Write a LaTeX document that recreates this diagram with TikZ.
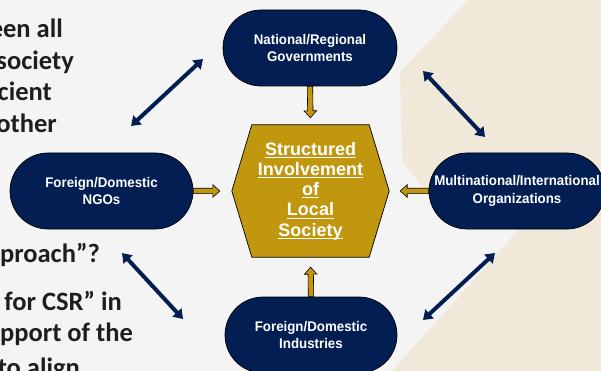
\documentclass[tikz,border=0pt]{standalone}
\usepackage{fontspec}
\usetikzlibrary{shapes.misc,calc,arrows.meta}
\newfontfamily\sidefont{Carlito}
\newfontfamily\boxfont[FakeStretch=0.95]{Liberation Sans}
\newfontfamily\hexfont{Liberation Sans}
\definecolor{navy}{RGB}{2,30,82}
\definecolor{gold}{RGB}{192,151,14}
\definecolor{bggray}{RGB}{244,244,244}
\definecolor{bgbeige}{RGB}{240,233,218}
\definecolor{sidetext}{RGB}{30,30,30}
\newcommand\hul[1]{\setbox0\hbox{#1}\rlap{\rule[-2.8pt]{\wd0}{1pt}}\box0}
\tikzset{
  tipgap/.store in=\tipgap, tipgap=7pt,
  stadium/.style={rounded rectangle, fill=navy, draw=black, line width=0.7pt,
    minimum height=76pt, inner sep=0pt, text=white, align=center,
    font=\boxfont\bfseries\fontsize{14}{17.5}\selectfont},
  hexbox/.style={minimum width=157pt, minimum height=132pt, inner sep=0pt},
  hextext/.style={text=white, align=center, inner sep=0pt,
    font=\hexfont\bfseries\fontsize{18}{20.3}\selectfont},
  sidetxt/.style={anchor=base east, inner sep=0pt, text=sidetext,
    font=\sidefont\bfseries\fontsize{26.5}{31}\selectfont},
  goldarrow/.style={fill=gold, draw=black, line width=0.6pt,
    to path={let \p1=(\tikztostart), \p2=($(\tikztotarget)!\tipgap!(\tikztostart)$),
      \n1={atan2(\y2-\y1,\x2-\x1)} in
      ($(\p1)+(\n1+90:2.7pt)$) -- ($(\p2)+(\n1:-7pt)+(\n1+90:2.7pt)$)
      -- ($(\p2)+(\n1:-7pt)+(\n1+90:6.3pt)$) -- (\p2)
      -- ($(\p2)+(\n1:-7pt)+(\n1-90:6.3pt)$) -- ($(\p2)+(\n1:-7pt)+(\n1-90:2.7pt)$)
      -- ($(\p1)+(\n1-90:2.7pt)$) -- cycle}},
  biarrow/.style={draw=navy, line width=4pt,
    {Triangle[width=12pt,length=9pt]}-{Triangle[width=12pt,length=9pt]}}
}
\begin{document}
\begin{tikzpicture}[x=1pt,y=-1pt]
\useasboundingbox (0,0) rectangle (601,371);
\clip (0,0) rectangle (601,371);
% background
\fill[bggray] (0,0) rectangle (601,371);
\fill[bgbeige] (468,0) -- (601,0) -- (601,371) -- (392,371) -- (520,228)
  -- (442,214) -- (402,160) -- (400,72) -- cycle;
% side text
\node[sidetxt] (s1) at (63,38) {een all};
\node[sidetxt] (s2) at (74,70) {society};
\node[sidetxt] (s3) at (52,101) {cient};
\node[sidetxt] (s4) at (57,133) {other};
\node[sidetxt] (s5) at (100,262) {pproach”?};
\node[sidetxt] (s6) at (122,310) {for CSR” in};
\node[sidetxt] (s7) at (133,341) {pport of the};
\node[sidetxt] (s8) at (80,376) {to align};
% nodes
\node[stadium, minimum width=174pt] (gov) at (310,48) {National/Regional\\Governments};
\node[stadium, minimum width=183pt] (ngo) at (101.5,191) {Foreign/Domestic\\NGOs};
\node[stadium, minimum width=176pt] (mno) at (517,191) {Multinational/International\\Organizations};
\node[stadium, minimum width=172pt] (ind) at (311,335) {Foreign/Domestic\\Industries};
\node[hexbox] (hex) at (310.5,191) {};
\filldraw[fill=gold, draw=black, line width=0.7pt]
  (hex.west) -- ($(hex.north west)+(20,0)$) -- ($(hex.north east)+(-20,0)$)
  -- (hex.east) -- ($(hex.south east)+(-20,0)$) -- ($(hex.south west)+(20,0)$) -- cycle;
\node[hextext] (hext) at (hex.center)
  {\hul{Structured}\\\hul{Involvement}\\\hul{of}\\\hul{Local}\\\hul{Society}};
% gold arrows
\draw[goldarrow, tipgap=7pt] (gov.south) to (hex.north);
\draw[goldarrow, tipgap=10pt] (ind.north) to (hex.south);
\draw[goldarrow, tipgap=12pt] (ngo.east) to (hex.west);
\draw[goldarrow, tipgap=11pt] (mno.west) to (hex.east);
% navy double arrows
\coordinate (tl1) at (131,126); \coordinate (tl2) at (203,59);
\coordinate (tr1) at (423,71);  \coordinate (tr2) at (485,137);
\coordinate (bl1) at (122,253); \coordinate (bl2) at (183,319);
\coordinate (br1) at (423,320); \coordinate (br2) at (495,253);
\draw[biarrow] (tl1) -- (tl2);
\draw[biarrow] (tr1) -- (tr2);
\draw[biarrow] (bl1) -- (bl2);
\draw[biarrow] (br1) -- (br2);
\end{tikzpicture}
\end{document}
